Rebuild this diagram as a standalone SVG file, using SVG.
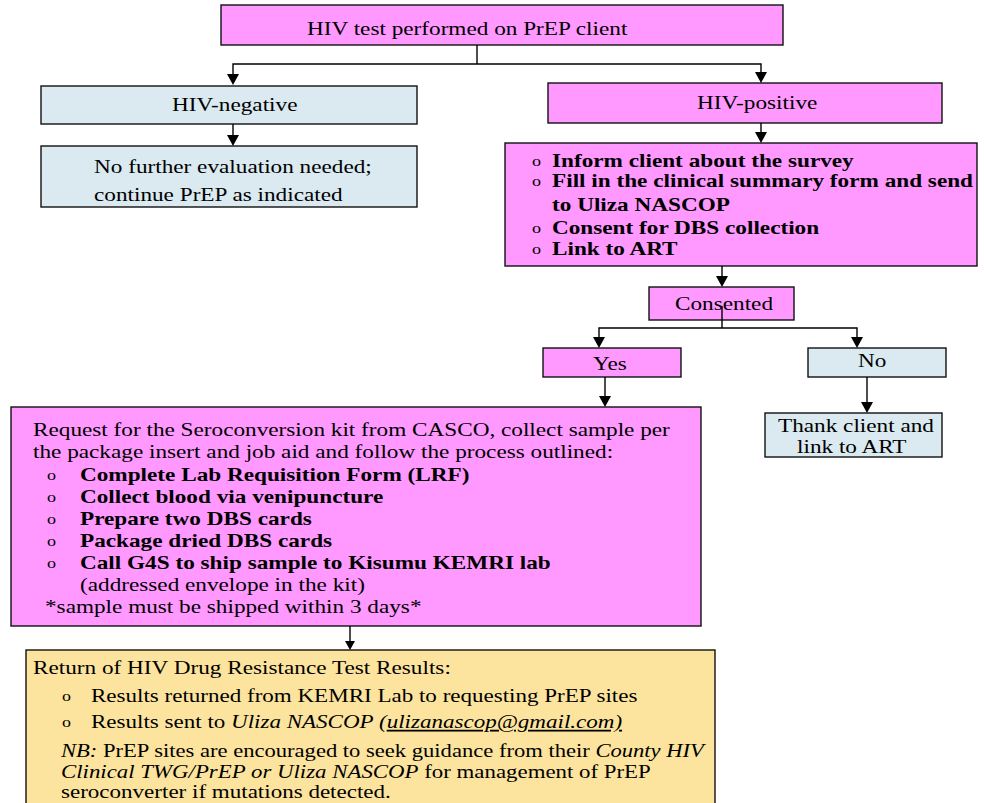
<svg xmlns="http://www.w3.org/2000/svg" width="984" height="803" viewBox="0 0 984 803">
<style>
.box{stroke:#111;stroke-width:1.4}
.pink{fill:#FF99FF}
.blue{fill:#DAEAF0}
.yel{fill:#FDE49E}
text{font-family:"Liberation Serif","Times New Roman",serif;font-size:18px;fill:#000}
.b{font-weight:bold}
.i{font-style:italic}
.u{text-decoration:underline}
.o{font-size:14px}
.c{stroke:#000;stroke-width:1.4;fill:none}
</style>

<g id="n-test">
<rect class="box pink" x="221" y="5" width="562" height="40"/>
<text transform="translate(307,35) scale(1.29,1)">HIV test performed on PrEP client</text>
</g>

<g id="n-neg">
<rect class="box blue" x="41" y="86" width="376" height="38"/>
<text transform="translate(172,111) scale(1.29,1)">HIV-negative</text>
</g>

<g id="n-neg-out">
<rect class="box blue" x="41" y="146" width="376" height="61"/>
<text transform="translate(94,173) scale(1.29,1)">No further evaluation needed;</text>
<text transform="translate(94,201) scale(1.29,1)">continue PrEP as indicated</text>
</g>

<g id="n-pos">
<rect class="box pink" x="548" y="83" width="394" height="40"/>
<text transform="translate(697,109) scale(1.29,1)">HIV-positive</text>
</g>

<g id="n-pos-steps">
<rect class="box pink" x="505" y="143" width="472" height="123"/>
<text class="o" transform="translate(532,166) scale(1.29,1)">o</text>
<text class="b" transform="translate(552,167) scale(1.29,1)">Inform client about the survey</text>
<text class="o" transform="translate(532,186) scale(1.29,1)">o</text>
<text class="b" transform="translate(552,187) scale(1.29,1)">Fill in the clinical summary form and send</text>
<text class="b" transform="translate(552,211) scale(1.29,1)">to Uliza NASCOP</text>
<text class="o" transform="translate(532,233) scale(1.29,1)">o</text>
<text class="b" transform="translate(552,234) scale(1.29,1)">Consent for DBS collection</text>
<text class="o" transform="translate(532,254) scale(1.29,1)">o</text>
<text class="b" transform="translate(552,255) scale(1.29,1)">Link to ART</text>
</g>

<g id="n-consented">
<rect class="box pink" x="649" y="287" width="145" height="33"/>
<text transform="translate(675,310) scale(1.29,1)">Consented</text>
</g>

<g id="n-yes">
<rect class="box pink" x="543" y="348" width="138" height="29"/>
<text transform="translate(593,370) scale(1.29,1)">Yes</text>
</g>

<g id="n-no">
<rect class="box blue" x="808" y="348" width="138" height="29"/>
<text transform="translate(858,367) scale(1.29,1)">No</text>
</g>

<g id="n-thank">
<rect class="box blue" x="765" y="413" width="177" height="44"/>
<text transform="translate(778,432) scale(1.29,1)">Thank client and</text>
<text transform="translate(797,453) scale(1.29,1)">link to ART</text>
</g>

<g id="n-request">
<rect class="box pink" x="11" y="407" width="690" height="219"/>
<text transform="translate(33,436) scale(1.29,1)">Request for the Seroconversion kit from CASCO, collect sample per</text>
<text transform="translate(33,458) scale(1.29,1)">the package insert and job aid and follow the process outlined:</text>
<text class="o" transform="translate(47,480) scale(1.29,1)">o</text>
<text class="b" transform="translate(80,481) scale(1.29,1)">Complete Lab Requisition Form (LRF)</text>
<text class="o" transform="translate(47,502) scale(1.29,1)">o</text>
<text class="b" transform="translate(80,503) scale(1.29,1)">Collect blood via venipuncture</text>
<text class="o" transform="translate(47,524) scale(1.29,1)">o</text>
<text class="b" transform="translate(80,525) scale(1.29,1)">Prepare two DBS cards</text>
<text class="o" transform="translate(47,546) scale(1.29,1)">o</text>
<text class="b" transform="translate(80,547) scale(1.29,1)">Package dried DBS cards</text>
<text class="o" transform="translate(47,568) scale(1.29,1)">o</text>
<text class="b" transform="translate(80,569) scale(1.29,1)">Call G4S to ship sample to Kisumu KEMRI lab</text>
<text transform="translate(80,591) scale(1.29,1)">(addressed envelope in the kit)</text>
<text transform="translate(45,613) scale(1.29,1)">*sample must be shipped within 3 days*</text>
</g>

<g id="n-results">
<rect class="box yel" x="26" y="650" width="689" height="170"/>
<text transform="translate(33,674) scale(1.29,1)">Return of HIV Drug Resistance Test Results:</text>
<text class="o" transform="translate(62,701) scale(1.28,1)">o</text>
<text transform="translate(91,702) scale(1.28,1)">Results returned from KEMRI Lab to requesting PrEP sites</text>
<text class="o" transform="translate(62,727) scale(1.28,1)">o</text>
<text transform="translate(91,728) scale(1.28,1)">Results sent to <tspan class="i">Uliza NASCOP (</tspan><tspan class="i u">ulizanascop@gmail.com)</tspan></text>
<text transform="translate(61,757) scale(1.255,1)"><tspan class="i">NB:</tspan> PrEP sites are encouraged to seek guidance from their <tspan class="i">County HIV</tspan></text>
<text transform="translate(61,778) scale(1.27,1)"><tspan class="i">Clinical TWG/PrEP or Uliza NASCOP</tspan> for management of PrEP</text>
<text transform="translate(61,798) scale(1.28,1)">seroconverter if mutations detected.</text>
</g>

<g id="connectors">
<polyline class="c" points="477,45 477,64"/>
<polyline class="c" points="233,74 233,64 761,64 761,72"/>
<path d="M227,74 L239,74 L233,85 Z"/>
<path d="M755,72 L767,72 L761,83 Z"/>
<polyline class="c" points="233,124 233,136"/>
<path d="M227,135 L239,135 L233,146 Z"/>
<polyline class="c" points="761,123 761,133"/>
<path d="M755,132 L767,132 L761,143 Z"/>
<polyline class="c" points="722,266 722,277"/>
<path d="M716,276 L728,276 L722,287 Z"/>
<polyline class="c" points="722,306 722,328"/>
<polyline class="c" points="599,338 599,328 857,328 857,338"/>
<path d="M593,337 L605,337 L599,348 Z"/>
<path d="M851,337 L863,337 L857,348 Z"/>
<polyline class="c" points="605,377 605,397"/>
<path d="M599,396 L611,396 L605,407 Z"/>
<polyline class="c" points="867,377 867,403"/>
<path d="M861,402 L873,402 L867,413 Z"/>
<polyline class="c" points="350,626 350,642"/>
<path d="M345,641 L355,641 L350,650 Z"/>
</g>
</svg>
